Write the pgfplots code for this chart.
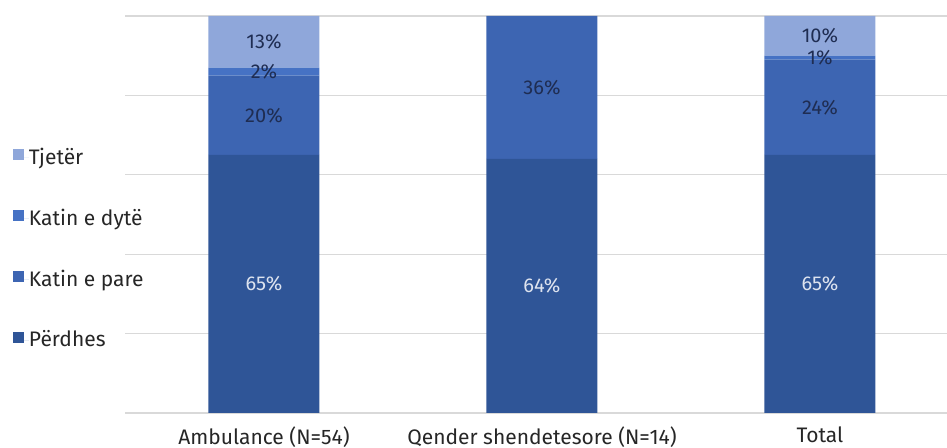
\documentclass[border=0pt]{standalone}
\usepackage{fontspec}
\setmainfont{Fira Sans}
\usepackage{pgfplots}
\pgfplotsset{compat=1.18}
\definecolor{cP}{HTML}{2F5597}
\definecolor{cKa}{HTML}{3D65B2}
\definecolor{cKb}{HTML}{4672C4}
\definecolor{cT}{HTML}{8FA7DA}
\definecolor{gridc}{HTML}{D9D9D9}
\definecolor{lab}{HTML}{1F2D52}
\definecolor{labw}{HTML}{DDE3EF}
\definecolor{txt}{HTML}{262626}
\begin{document}
\begin{tikzpicture}[x=1pt,y=1pt]
\path[use as bounding box] (0,0) rectangle (473.5,224);
\begin{axis}[
  at={(62.5pt,17.5pt)}, anchor=south west,
  scale only axis, width=411pt, height=198.5pt,
  ybar stacked, bar width=55.5pt,
  xmin=-0.5, xmax=2.457, ymin=0, ymax=100,
  xtick={0,1,2},
  xticklabels={Ambulance (N=54), Qender shendetesore (N=14), Total},
  ytick={0,20,...,100}, yticklabels={},
  ymajorgrids, grid style={draw=gridc, line width=0.6pt},
  axis line style={draw=none}, major tick length=0pt,
  xticklabel style={font=\fontsize{10.5}{12}\selectfont, text=txt, yshift=-3.5pt},
  /pgf/number format/assume math mode=true,
  reverse legend,
  legend cell align=left,
  legend image code/.code={
    \fill[#1, draw=none] (0pt,-1.2pt) rectangle (5.5pt,4.3pt);
    \path (0pt,0pt) -- (8pt,0pt);
  },
  legend style={draw=none, fill=none, at={(axis description cs:-0.1363,0.4130)}, anchor=west,
    inner sep=0pt, outer sep=0pt, font=\fontsize{10.5}{12}\selectfont, text=txt,
    row sep=20.7pt, nodes={inner sep=0pt}},
  nodes near coords={\pgfmathfloatifflags{\pgfplotspointmeta}{0}{}{\pgfmathprintnumber{\pgfplotspointmeta}\%}},
  every node near coord/.append style={font=\fontsize{10}{11}\selectfont, anchor=center},
]
\addplot[fill=cP, draw=none, every node near coord/.append style={text=labw}] coordinates {(0,65) (1,64) (2,65)};
\addlegendentry{Përdhes}
\addplot[fill=cKa, draw=none, every node near coord/.append style={text=lab}] coordinates {(0,20) (1,36) (2,24)};
\addlegendentry{Katin e pare}
\addplot[fill=cKb, draw=none, every node near coord/.append style={text=lab}] coordinates {(0,2) (1,0) (2,1)};
\addlegendentry{Katin e dytë}
\addplot[fill=cT, draw=none, every node near coord/.append style={text=lab}] coordinates {(0,13) (1,0) (2,10)};
\addlegendentry{Tjetër}
\end{axis}
\end{tikzpicture}
\end{document}
